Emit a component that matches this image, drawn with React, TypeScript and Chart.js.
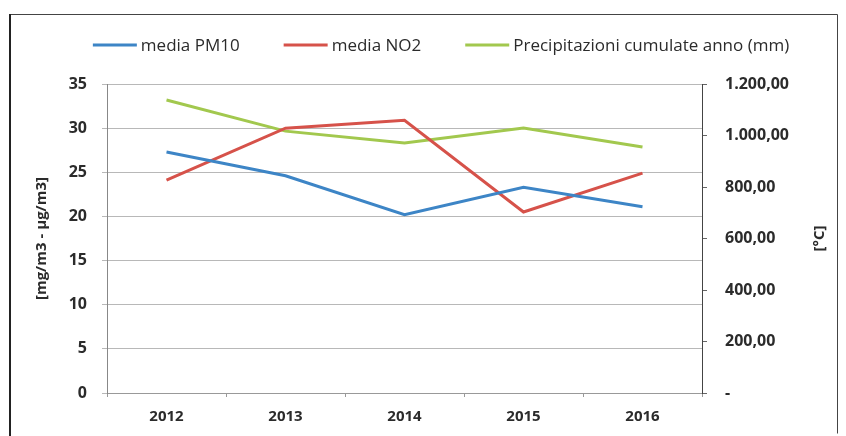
import React, { useEffect, useRef } from "react";
import { Chart, registerables } from "chart.js";

Chart.register(...registerables);

const years = ["2012", "2013", "2014", "2015", "2016"];
const pm10 = [27.3, 24.6, 20.2, 23.3, 21.1];
const no2 = [24.1, 30.0, 30.9, 20.5, 24.9];
const precipitazioni = [1138, 1017, 971, 1029, 955];

const leftTicks = { min: 0, max: 35, step: 5 };
const rightTicks = { min: 0, max: 1200, step: 200 };

const FONT = '"Open Sans", "Liberation Sans", sans-serif';
const TEXT = "#2b2b2b";

function formatIt(v: number): string {
  if (v === 0) return "-";
  const fixed = v.toFixed(2);
  const [intPart, dec] = fixed.split(".");
  const withDots = intPart.replace(/\B(?=(\d{3})+(?!\d))/g, ".");
  return withDots + "," + dec;
}

const decorPlugin = {
  id: "decor",
  afterDraw(chart: any) {
    const ctx = chart.ctx as CanvasRenderingContext2D;
    const W = chart.width;
    const H = chart.height;
    ctx.save();
    // frame
    ctx.strokeStyle = "#444";
    ctx.lineWidth = 1;
    ctx.beginPath();
    ctx.moveTo(10.5, H - 2.5);
    ctx.lineTo(10.5, 14.5);
    ctx.lineTo(W - 8.5, 14.5);
    ctx.lineTo(W - 8.5, H - 2.5);
    ctx.stroke();
    ctx.strokeStyle = "#222";
    ctx.lineWidth = 2;
    ctx.beginPath();
    ctx.moveTo(10, 14);
    ctx.lineTo(10, H);
    ctx.stroke();

    // right axis title
    const y1 = chart.scales.y1;
    const area = chart.chartArea;
    ctx.fillStyle = TEXT;
    ctx.font = "bold 15px " + FONT;
    ctx.textAlign = "center";
    ctx.textBaseline = "middle";
    ctx.translate(y1.right - 26, (area.top + area.bottom) / 2);
    ctx.rotate(-Math.PI / 2);
    ctx.fillText("[°C]", 0, 0);
    ctx.restore();

    // legend
    ctx.save();
    ctx.font = "17px " + FONT;
    ctx.textBaseline = "middle";
    ctx.textAlign = "left";
    const lineW = 44;
    const textGap = 4;
    const itemGap = 44;
    const ds = chart.data.datasets;
    const widths = ds.map((d: any) => lineW + textGap + ctx.measureText(d.label).width);
    const total = widths.reduce((a: number, b: number) => a + b, 0) + itemGap * (ds.length - 1);
    let x = 441 - total / 2;
    const y = 45;
    ds.forEach((d: any, i: number) => {
      ctx.strokeStyle = d.borderColor;
      ctx.lineWidth = 3;
      ctx.beginPath();
      ctx.moveTo(x, y);
      ctx.lineTo(x + lineW, y);
      ctx.stroke();
      ctx.fillStyle = TEXT;
      ctx.fillText(d.label, x + lineW + textGap, y + 1);
      x += widths[i] + itemGap;
    });
    ctx.restore();
  },
};

export default function App() {
  const ref = useRef<HTMLCanvasElement | null>(null);

  useEffect(() => {
    if (!ref.current) return;
    const chart = new Chart(ref.current, {
      type: "line",
      data: {
        labels: years,
        datasets: [
          {
            label: "media PM10",
            data: pm10,
            borderColor: "#3D85C6",
            backgroundColor: "#3D85C6",
            borderWidth: 3,
            pointRadius: 0,
            yAxisID: "y",
          },
          {
            label: "media NO2",
            data: no2,
            borderColor: "#D6524A",
            backgroundColor: "#D6524A",
            borderWidth: 3,
            pointRadius: 0,
            yAxisID: "y",
          },
          {
            label: "Precipitazioni cumulate anno (mm)",
            data: precipitazioni,
            borderColor: "#A2C84E",
            backgroundColor: "#A2C84E",
            borderWidth: 3,
            pointRadius: 0,
            yAxisID: "y1",
          },
        ],
      },
      options: {
        responsive: false,
        animation: false,
        devicePixelRatio: 1,
        layout: { padding: { top: 84, left: 0, right: 0, bottom: 0 } },
        plugins: {
          legend: { display: false },
          tooltip: { enabled: false },
        },
        scales: {
          x: {
            type: "category",
            offset: true,
            grid: {
              drawOnChartArea: false,
              drawTicks: true,
              tickLength: 4,
              color: "#999",
              offset: true,
            },
            border: { color: "#999" },
            ticks: {
              font: { family: FONT, size: 15, weight: "bold" },
              color: TEXT,
              padding: 11,
            },
            afterFit(scale: any) {
              scale.height = 43;
            },
          },
          y: {
            position: "left",
            min: leftTicks.min,
            max: leftTicks.max,
            ticks: {
              stepSize: leftTicks.step,
              font: { family: FONT, size: 16, weight: "bold" },
              color: TEXT,
              padding: 15,
            },
            grid: { color: "#b8b8b8", tickLength: 5, lineWidth: 1 },
            border: { color: "#888" },
            title: {
              display: true,
              text: "[mg/m3 - µg/m3]",
              font: { family: FONT, size: 15, weight: "bold" },
              color: TEXT,
              padding: { top: 33, bottom: 0 },
            },
            afterFit(scale: any) {
              scale.width = 107;
            },
          },
          y1: {
            position: "right",
            min: rightTicks.min,
            max: rightTicks.max,
            ticks: {
              stepSize: rightTicks.step,
              font: { family: FONT, size: 16, weight: "bold" },
              color: TEXT,
              padding: 18,
              callback: (v: any) => formatIt(Number(v)),
            },
            grid: { drawOnChartArea: false, tickLength: 5, color: "#666" },
            border: { color: "#444" },
            afterFit(scale: any) {
              scale.width = 144;
            },
          },
        },
      },
      plugins: [decorPlugin],
    });
    return () => chart.destroy();
  }, []);

  return (
    <div
      style={{
        position: "fixed",
        left: 0,
        top: 0,
        width: 846,
        height: 436,
        background: "#fff",
      }}
    >
      <canvas ref={ref} width={846} height={436} />
    </div>
  );
}
